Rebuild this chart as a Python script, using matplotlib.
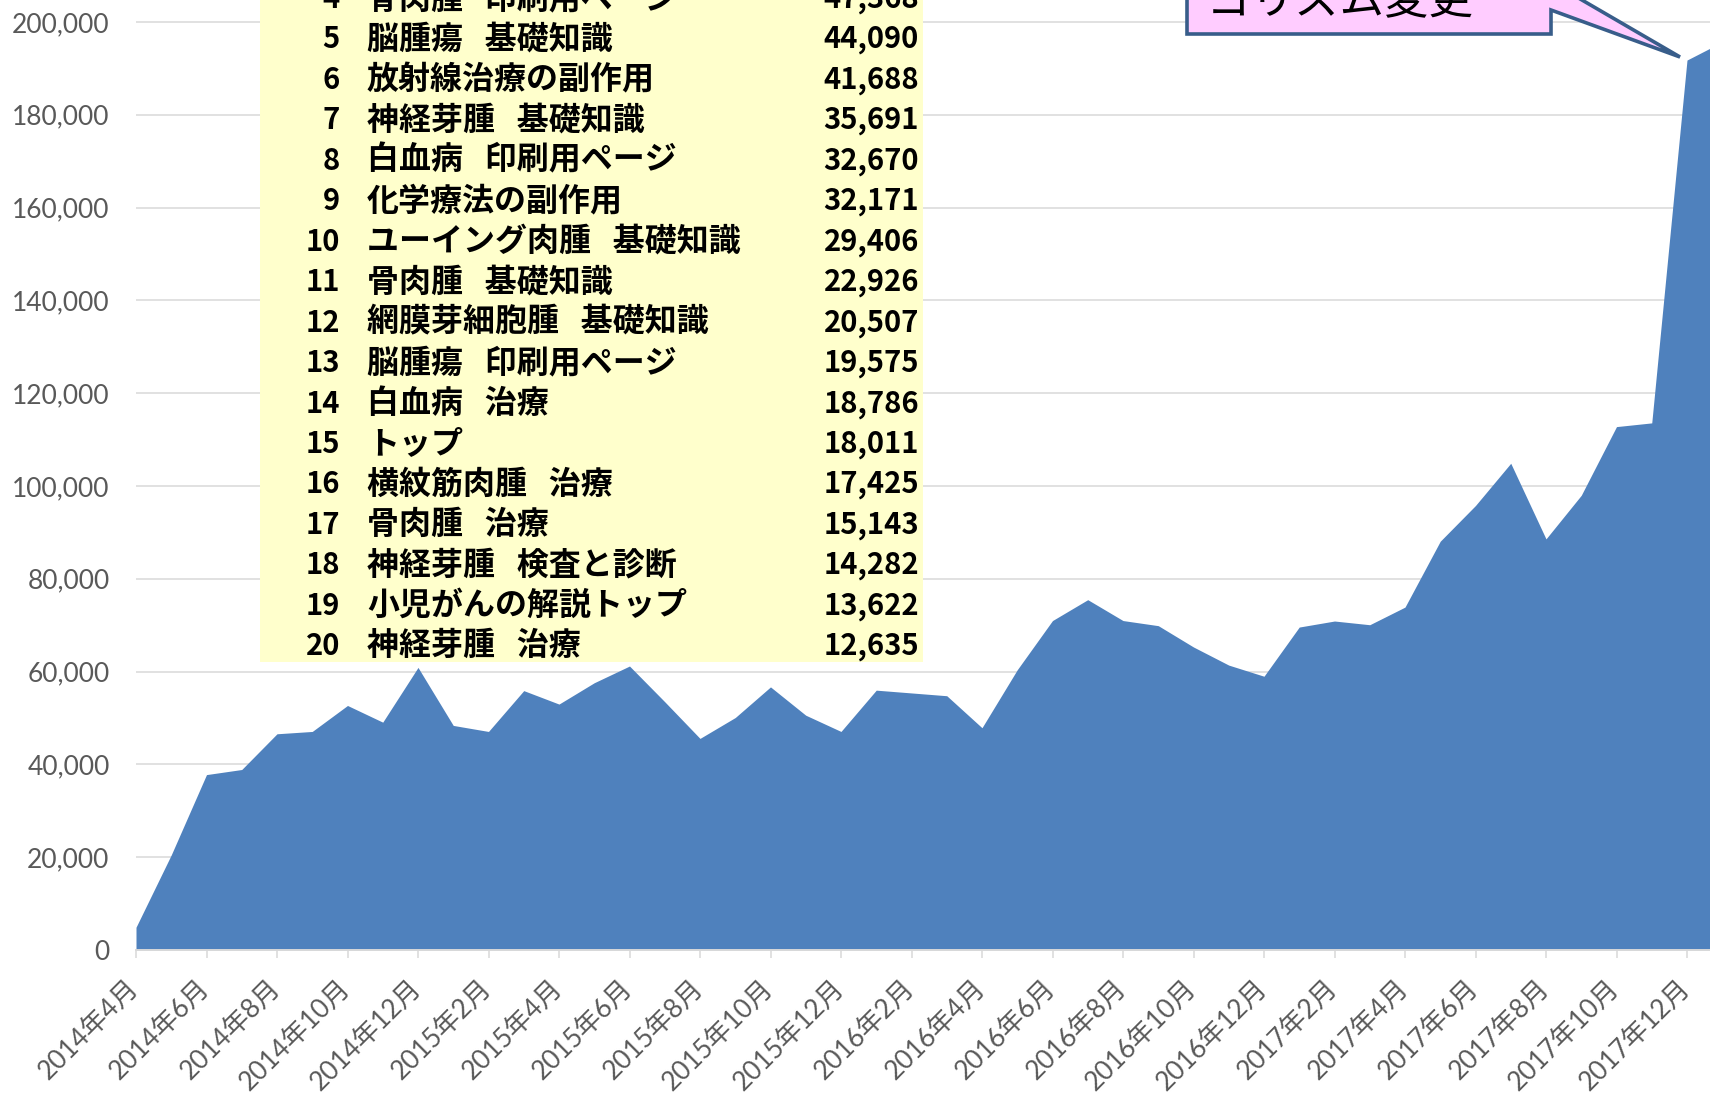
import matplotlib
matplotlib.use("Agg")
import matplotlib.pyplot as plt
import matplotlib.transforms as mtransforms
from matplotlib.patches import Rectangle, Polygon
from matplotlib.ticker import FuncFormatter

W, H = 1710, 1095

# 月別ページビュー（2014年4月〜）
views = [4900, 20500, 37800, 38900, 46600, 47100, 52700, 49100, 60900, 48400,
         47100, 55900, 53000, 57600, 61200, 53500, 45600, 50100, 56700, 50600,
         47100, 56000, 55400, 54800, 47900, 60400, 71000, 75500, 71000, 69900,
         65300, 61400, 59000, 69600, 70900, 70100, 73900, 88100, 95800, 104900,
         88600, 98000, 112800, 113600, 191800, 195700]

month_labels = ["2014年4月", "2014年6月", "2014年8月", "2014年10月", "2014年12月",
                "2015年2月", "2015年4月", "2015年6月", "2015年8月", "2015年10月",
                "2015年12月", "2016年2月", "2016年4月", "2016年6月", "2016年8月",
                "2016年10月", "2016年12月", "2017年2月", "2017年4月", "2017年6月",
                "2017年8月", "2017年10月", "2017年12月"]

# ページ別ランキング（上位は画像の外）
ranks = [4, 5, 6, 7, 8, 9, 10, 11, 12, 13, 14, 15, 16, 17, 18, 19, 20]
pages = ["骨肉腫   印刷用ページ", "脳腫瘍   基礎知識", "放射線治療の副作用", "神経芽腫   基礎知識",
         "白血病   印刷用ページ", "化学療法の副作用", "ユーイング肉腫   基礎知識", "骨肉腫   基礎知識",
         "網膜芽細胞腫   基礎知識", "脳腫瘍   印刷用ページ", "白血病   治療", "トップ",
         "横紋筋肉腫   治療", "骨肉腫   治療", "神経芽腫   検査と診断", "小児がんの解説トップ",
         "神経芽腫   治療"]
page_views = [47368, 44090, 41688, 35691, 32670, 32171, 29406, 22926, 20507, 19575,
              18786, 18011, 17425, 15143, 14282, 13622, 12635]

# 吹き出し（上の行は画像の外）
callout_text = "Google検索アル\nゴリズム変更"

AREA = "#4F81BD"
GRID = "#D9D9D9"
TICKTXT = "#595959"

fig = plt.figure(figsize=(W / 100, H / 100), dpi=100)

# 軸は右と上で画像からはみ出す（元画像が切り抜かれているため）
px_per_month = 35.25
px_per_1000 = 4.64
ax = fig.add_axes([136 / W, 145 / H, 45 * px_per_month / W, 220 * px_per_1000 / H])
x = list(range(len(views)))
ax.fill_between(x, views, 0, color=AREA, linewidth=0, zorder=2)
ax.set_xlim(0, 45)
ax.set_ylim(0, 220000)

ax.set_axisbelow(True)
ax.yaxis.grid(True, color=GRID, linewidth=1.1)
for s in ["top", "right", "left"]:
    ax.spines[s].set_visible(False)
ax.spines["bottom"].set_color(GRID)
ax.spines["bottom"].set_linewidth(1.4)
ax.spines["bottom"].set_zorder(3)

tick_font = ["Lato", "Noto Sans CJK JP"]
ax.set_yticks(range(0, 220001, 20000))
ax.yaxis.set_major_formatter(FuncFormatter(lambda v, p: f"{int(v):,}"))
ax.tick_params(axis="y", length=0, pad=19, labelsize=19, labelcolor=TICKTXT)
ax.set_xticks(range(0, 45, 2))
ax.set_xticklabels(month_labels, rotation=45, ha="right", va="top", rotation_mode="anchor")
ax.tick_params(axis="x", length=6, width=1.1, color=GRID, pad=14, labelsize=19, labelcolor=TICKTXT)
shift = mtransforms.ScaledTranslation(-0.10, 0.03, fig.dpi_scale_trans)
for lab in ax.get_xticklabels():
    lab.set_transform(lab.get_transform() + shift)
for lab in ax.get_xticklabels() + ax.get_yticklabels():
    lab.set_family(tick_font)
    lab.set_weight("normal")

# ランキング表（黄色の背景）
fig.add_artist(Rectangle((260 / W, (H - 662) / H), (923 - 260) / W, 662 / H + 0.1,
                         transform=fig.transFigure, facecolor="#FFFFCC", edgecolor="none", zorder=5))
name_font = dict(family="Noto Sans CJK JP", weight="bold", fontsize=23, color="black", zorder=6)
num_font = dict(family="Noto Sans CJK JP", weight="bold", fontsize=21, color="black", zorder=6)
for r, name, v in zip(ranks, pages, page_views):
    yc = 39.5 + (r - 5) * 40.45
    yf = (H - yc) / H
    fig.text(340 / W, yf, str(r), ha="right", va="center", **num_font)
    fig.text(367 / W, yf, name, ha="left", va="center", **name_font)
    fig.text(919 / W, yf, f"{v:,}", ha="right", va="center", **num_font)

# 吹き出し
pts = [(1187, -150), (1187, 34), (1551, 34), (1551, 10), (1680, 57), (1551, -18), (1551, -150)]
fig.add_artist(Polygon([(px / W, (H - py) / H) for px, py in pts], closed=True,
                       transform=fig.transFigure, facecolor="#FFCCFF", edgecolor="#385D8A",
                       linewidth=2.6, joinstyle="miter", zorder=5))
fig.text(1207 / W, (H - 13) / H, callout_text, ha="left", va="baseline", linespacing=1.25,
         family="Noto Sans CJK JP", fontsize=32, color="black", zorder=6)

fig.savefig("out.png", dpi=100)
